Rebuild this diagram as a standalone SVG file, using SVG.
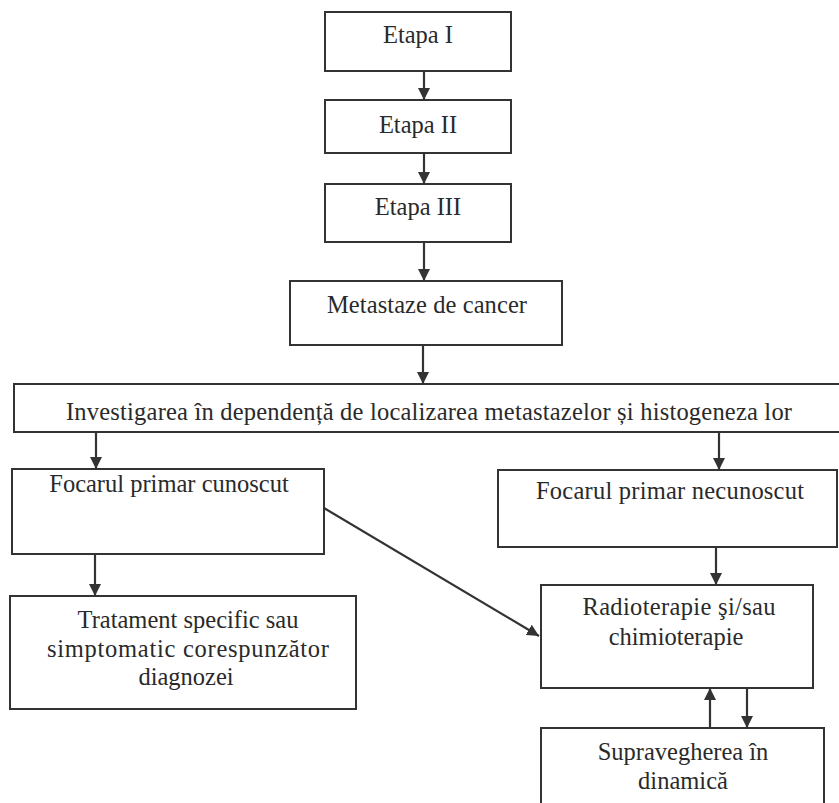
<svg xmlns="http://www.w3.org/2000/svg" width="839" height="803" viewBox="0 0 839 803">
<style>
.box{fill:#fff;stroke:#333;stroke-width:2}
.t{font-family:'Liberation Serif','DejaVu Serif',serif;font-size:24.5px;fill:#2a2a2a;text-anchor:middle}
.c{stroke:#333;stroke-width:2.2;fill:none;marker-end:url(#ah)}
</style>
<defs>
<marker id="ah" viewBox="0 0 12 12" refX="12" refY="6" markerWidth="12" markerHeight="12" markerUnits="userSpaceOnUse" orient="auto">
<path d="M0,0 L12,6 L0,12 Z" fill="#333"/>
</marker>
</defs>
<rect width="839" height="803" fill="#fff"/>
<g id="n1"><rect class="box" x="325" y="12" width="186" height="59"/><text class="t" x="418" y="43">Etapa I</text></g>
<g id="n2"><rect class="box" x="325" y="100" width="186" height="53"/><text class="t" x="418" y="133">Etapa II</text></g>
<g id="n3"><rect class="box" x="325" y="184" width="186" height="58"/><text class="t" x="418" y="215">Etapa III</text></g>
<g id="n4"><rect class="box" x="290" y="281" width="272" height="64"/><text class="t" x="427" y="313" textLength="200">Metastaze de cancer</text></g>
<g id="n5"><rect class="box" x="14" y="384" width="832" height="48"/><text class="t" x="429" y="420" textLength="726">Investigarea în dependență de localizarea metastazelor și histogeneza lor</text></g>
<g id="n6"><rect class="box" x="12" y="469" width="312" height="85"/><text class="t" x="169" y="492">Focarul primar cunoscut</text></g>
<g id="n7"><rect class="box" x="498" y="470" width="339" height="77"/><text class="t" x="670" y="499" textLength="268">Focarul primar necunoscut</text></g>
<g id="n8"><rect class="box" x="10" y="596" width="346" height="113"/><text class="t" x="188" y="628">Tratament specific sau</text><text class="t" x="188" y="657" textLength="282">simptomatic corespunzător</text><text class="t" x="186" y="685">diagnozei</text></g>
<g id="n9"><rect class="box" x="541" y="585" width="272" height="103"/><text class="t" x="679" y="615" textLength="193">Radioterapie şi/sau</text><text class="t" x="676" y="645">chimioterapie</text></g>
<g id="n10"><rect class="box" x="541" y="728" width="283" height="90"/><text class="t" x="683" y="760">Supravegherea în</text><text class="t" x="683" y="789">dinamică</text></g>
<g id="connectors">
<line class="c" x1="424" y1="71" x2="424" y2="100"/>
<line class="c" x1="424" y1="153" x2="424" y2="184"/>
<line class="c" x1="424" y1="242" x2="424" y2="281"/>
<line class="c" x1="423" y1="345" x2="423" y2="384"/>
<line class="c" x1="96" y1="432" x2="96" y2="469"/>
<line class="c" x1="719" y1="432" x2="719" y2="470"/>
<line class="c" x1="95" y1="554" x2="95" y2="596"/>
<line class="c" x1="716" y1="547" x2="716" y2="585"/>
<line class="c" x1="324" y1="508" x2="539" y2="636"/>
<line class="c" x1="710" y1="728" x2="710" y2="688"/>
<line class="c" x1="747" y1="688" x2="747" y2="728"/>
</g>
</svg>
